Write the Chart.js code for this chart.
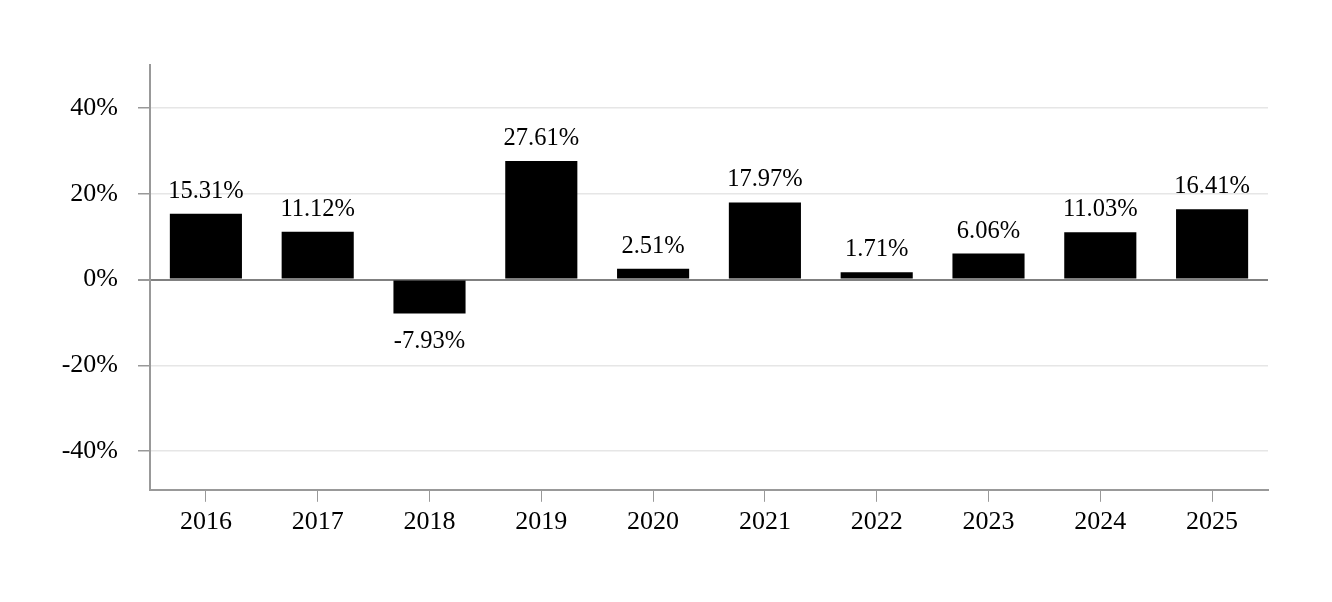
<!DOCTYPE html>
<html lang="en">
<head>
    <meta charset="UTF-8">
    <title>Annual Returns</title>
    <script src="https://cdn.jsdelivr.net/npm/chart.js"></script>
    <style>
        html, body {
            margin: 0;
            padding: 0;
            background: #fff;
        }
        #wrap {
            width: 1332px;
            height: 602px;
        }
    </style>
</head>
<body>
    <div id="wrap"><canvas id="chart"></canvas></div>

    <script>
        const years = ['2016', '2017', '2018', '2019', '2020', '2021', '2022', '2023', '2024', '2025'];
        const returns = [15.31, 11.12, -7.93, 27.61, 2.51, 17.97, 1.71, 6.06, 11.03, 16.41];
        const yTicks = [-40, -20, 0, 20, 40];

        const FONT = '"Liberation Serif", "Times New Roman", serif';

        // draws the value above (or below) each bar
        const valueLabels = {
            id: 'valueLabels',
            afterDatasetsDraw(chart) {
                const ctx = chart.ctx;
                const meta = chart.getDatasetMeta(0);
                ctx.save();
                ctx.font = '24.5px ' + FONT;
                ctx.fillStyle = '#000';
                ctx.textAlign = 'center';
                ctx.textBaseline = 'alphabetic';
                meta.data.forEach((bar, i) => {
                    const v = returns[i];
                    const y = v >= 0 ? bar.y - 16 : bar.y + 34;
                    ctx.fillText(v.toFixed(2) + '%', bar.x, y);
                });
                ctx.restore();
            }
        };

        new Chart(document.getElementById('chart'), {
            type: 'bar',
            data: {
                labels: years,
                datasets: [{
                    data: returns,
                    backgroundColor: '#000',
                    barPercentage: 0.645,
                    categoryPercentage: 1
                }]
            },
            options: {
                responsive: true,
                maintainAspectRatio: false,
                animation: false,
                layout: {
                    padding: { top: 65, right: 64, bottom: 59, left: 0 }
                },
                plugins: {
                    legend: { display: false },
                    tooltip: { enabled: false }
                },
                scales: {
                    x: {
                        grid: {
                            offset: false,
                            drawOnChartArea: false,
                            drawTicks: true,
                            tickLength: 12,
                            tickColor: '#999'
                        },
                        border: { color: '#999', width: 2 },
                        ticks: {
                            color: '#000',
                            font: { family: FONT, size: 26 },
                            padding: 5,
                            maxRotation: 0
                        }
                    },
                    y: {
                        min: -49,
                        max: 50,
                        afterBuildTicks: axis => {
                            axis.ticks = yTicks.map(v => ({ value: v }));
                        },
                        afterFit: axis => {
                            axis.width = 150;
                        },
                        grid: {
                            color: c => c.tick && c.tick.value === 0 ? '#808080' : '#e6e6e6',
                            lineWidth: c => c.tick && c.tick.value === 0 ? 2 : 1.5,
                            tickColor: '#999',
                            tickLength: 12
                        },
                        border: { color: '#999', width: 2 },
                        ticks: {
                            color: '#000',
                            font: { family: FONT, size: 26 },
                            padding: 20,
                            callback: v => v + '%'
                        }
                    }
                }
            },
            plugins: [valueLabels]
        });
    </script>
</body>
</html>
